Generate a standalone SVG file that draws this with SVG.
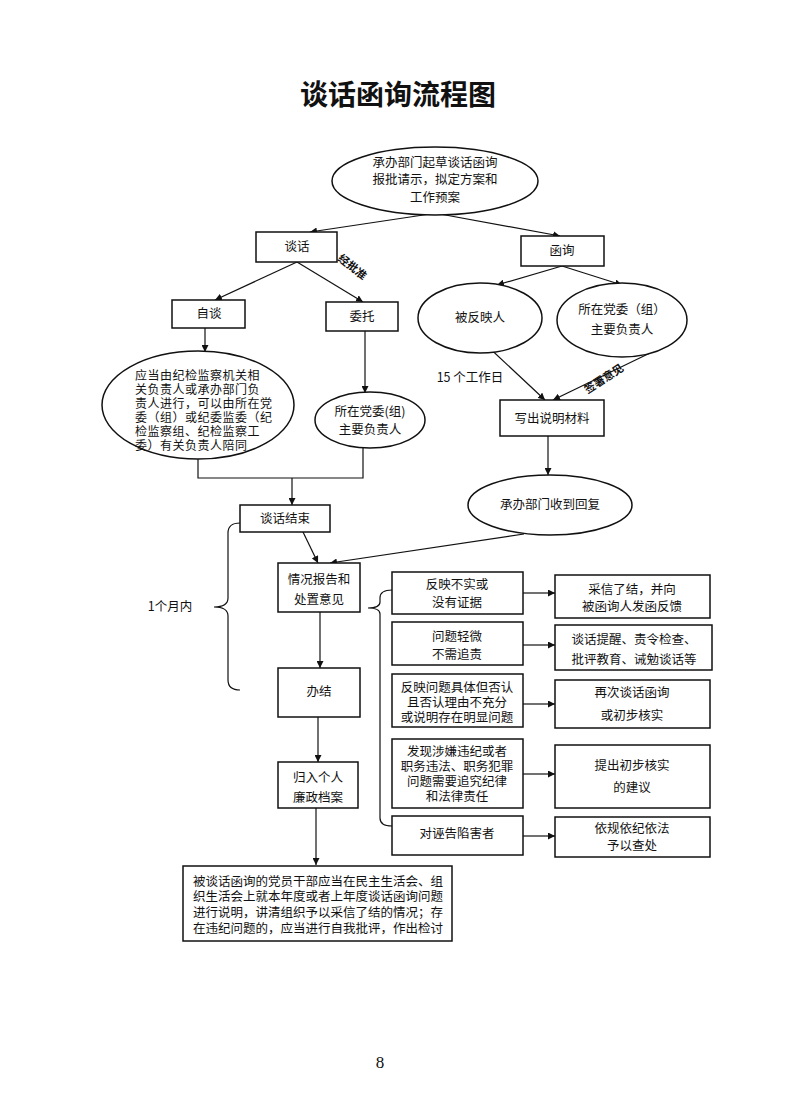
<svg xmlns="http://www.w3.org/2000/svg" width="800" height="1107" viewBox="0 0 800 1107">
<defs>
<marker id="ah" viewBox="0 0 10 10" refX="10" refY="5" markerWidth="7" markerHeight="7" orient="auto" markerUnits="userSpaceOnUse">
<path d="M0,0 L10,5 L0,10 z" fill="#111"/>
</marker>
<style>
.n{fill:#fff;stroke:#111;stroke-width:1.5}
.t{font-family:"Noto Sans CJK SC","Noto Sans",sans-serif;font-size:12.5px;fill:#111;text-anchor:middle}
.l{text-anchor:start}
.s{font-size:12px;letter-spacing:0.5px}
.c{fill:none;stroke:#111;stroke-width:1.2}
.a{fill:none;stroke:#111;stroke-width:1.2;marker-end:url(#ah)}
.b{font-weight:bold;font-size:11px}
</style>
</defs>
<rect width="800" height="1107" fill="#fff"/>
<text x="398" y="105" class="t" style="font-size:28px;font-weight:bold">谈话函询流程图</text>

<g id="connectors">
<path class="a" d="M430,214 L310,232"/>
<path class="a" d="M440,214 L560,236"/>
<path class="a" d="M297,262 L215,300"/>
<path class="a" d="M297,262 L363,302"/>
<path class="a" d="M562,266 L497,285"/>
<path class="a" d="M562,266 L622,285"/>
<path class="a" d="M205,328 L205,352"/>
<path class="a" d="M365,331 L365,393"/>
<path class="c" d="M198,458 L198,478 L363,478 L363,448"/>
<path class="a" d="M292,478 L292,505"/>
<path class="a" d="M484,343 L545,400"/>
<path class="a" d="M650,353 L553,400"/>
<path class="a" d="M548,436 L548,475"/>
<path class="a" d="M524,534 L330,563"/>
<path class="a" d="M303,532 L318,563"/>
<path class="a" d="M320,612 L320,668"/>
<path class="a" d="M318,717 L318,762"/>
<path class="a" d="M316,808 L316,865"/>
<path class="a" d="M523,593 L555,593"/>
<path class="a" d="M523,645 L555,645"/>
<path class="a" d="M523,704 L555,704"/>
<path class="a" d="M523,774 L555,774"/>
<path class="a" d="M523,836 L555,836"/>
<path class="c" d="M240,523 Q228,523 228,533 L228,598 Q228,607 214,607 Q228,607 228,616 L228,680 Q228,690 240,690"/>
<path class="c" d="M392,590 Q380,590 380,598 L380,602 Q380,608 368,608 Q380,608 380,614 L380,818 Q380,826 392,826"/>
<text class="t b" transform="translate(350,270) rotate(38)">经批准</text>
<text class="t b" transform="translate(606,382) rotate(-33)">签署意见</text>
<text class="t" x="470" y="382">15 个工作日</text>
<text class="t" x="170" y="611">1个月内</text>
</g>

<g id="start">
<ellipse class="n" cx="435" cy="181" rx="103" ry="34"/>
<text class="t" x="435" y="167">承办部门起草谈话函询</text>
<text class="t" x="435" y="184">报批请示，拟定方案和</text>
<text class="t" x="435" y="202">工作预案</text>
</g>
<g id="tanhua"><rect class="n" x="256" y="232" width="81" height="30"/><text class="t" x="297" y="251">谈话</text></g>
<g id="hanxun"><rect class="n" x="521" y="236" width="83" height="30"/><text class="t" x="562" y="255">函询</text></g>
<g id="zitan"><rect class="n" x="172" y="300" width="73" height="28"/><text class="t" x="209" y="318">自谈</text></g>
<g id="weituo"><rect class="n" x="326" y="302" width="72" height="29"/><text class="t" x="362" y="321">委托</text></g>
<g id="beifanying"><ellipse class="n" cx="480" cy="318" rx="62" ry="35"/><text class="t" x="480" y="322">被反映人</text></g>
<g id="dangwei1"><ellipse class="n" cx="622" cy="320" rx="65" ry="37"/><text class="t" x="622" y="314">所在党委（组）</text><text class="t" x="622" y="334">主要负责人</text></g>
<g id="yingdang">
<ellipse class="n" cx="198" cy="405" rx="96" ry="54"/>
<text class="t l s" x="135" y="380">应当由纪检监察机关相</text>
<text class="t l s" x="135" y="394">关负责人或承办部门负</text>
<text class="t l s" x="135" y="408">责人进行，可以由所在党</text>
<text class="t l s" x="135" y="422">委（组）或纪委监委（纪</text>
<text class="t l s" x="135" y="436">检监察组、纪检监察工</text>
<text class="t l s" x="135" y="450">委）有关负责人陪同</text>
</g>
<g id="dangwei2"><ellipse class="n" cx="370" cy="420" rx="55" ry="28"/><text class="t" x="370" y="416">所在党委(组)</text><text class="t" x="370" y="434">主要负责人</text></g>
<g id="xiechu"><rect class="n" x="500" y="400" width="104" height="36"/><text class="t" x="552" y="423">写出说明材料</text></g>
<g id="shoudao"><ellipse class="n" cx="550" cy="505" rx="82" ry="30"/><text class="t" x="550" y="509">承办部门收到回复</text></g>
<g id="jieshu"><rect class="n" x="240" y="505" width="90" height="27"/><text class="t" x="285" y="523">谈话结束</text></g>
<g id="qingkuang"><rect class="n" x="278" y="563" width="82" height="49"/><text class="t" x="319" y="584">情况报告和</text><text class="t" x="319" y="604">处置意见</text></g>
<g id="banjie"><rect class="n" x="278" y="668" width="82" height="49"/><text class="t" x="319" y="696">办结</text></g>
<g id="guiru"><rect class="n" x="278" y="762" width="80" height="46"/><text class="t" x="318" y="782">归入个人</text><text class="t" x="318" y="802">廉政档案</text></g>
<g id="bottom">
<rect class="n" x="183" y="866" width="269" height="75"/>
<text class="t l" x="193" y="886">被谈话函询的党员干部应当在民主生活会、组</text>
<text class="t l" x="193" y="901">织生活会上就本年度或者上年度谈话函询问题</text>
<text class="t l" x="193" y="917">进行说明，讲清组织予以采信了结的情况；存</text>
<text class="t l" x="193" y="933">在违纪问题的，应当进行自我批评，作出检讨</text>
</g>
<g id="m1"><rect class="n" x="392" y="572" width="131" height="42"/><text class="t" x="457" y="589">反映不实或</text><text class="t" x="457" y="607">没有证据</text></g>
<g id="m2"><rect class="n" x="392" y="622" width="131" height="43"/><text class="t" x="457" y="641">问题轻微</text><text class="t" x="457" y="659">不需追责</text></g>
<g id="m3"><rect class="n" x="392" y="674" width="131" height="53"/><text class="t" x="457" y="692">反映问题具体但否认</text><text class="t" x="457" y="707">且否认理由不充分</text><text class="t" x="457" y="722">或说明存在明显问题</text></g>
<g id="m4"><rect class="n" x="392" y="739" width="131" height="69"/><text class="t" x="457" y="756">发现涉嫌违纪或者</text><text class="t" x="457" y="771">职务违法、职务犯罪</text><text class="t" x="457" y="786">问题需要追究纪律</text><text class="t" x="457" y="801">和法律责任</text></g>
<g id="m5"><rect class="n" x="392" y="816" width="131" height="39"/><text class="t" x="457" y="838">对诬告陷害者</text></g>
<g id="r1"><rect class="n" x="555" y="575" width="155" height="43"/><text class="t" x="632" y="594">采信了结，并向</text><text class="t" x="632" y="611">被函询人发函反馈</text></g>
<g id="r2"><rect class="n" x="555" y="625" width="157" height="45"/><text class="t" x="634" y="644">谈话提醒、责令检查、</text><text class="t" x="634" y="664">批评教育、诫勉谈话等</text></g>
<g id="r3"><rect class="n" x="555" y="680" width="155" height="48"/><text class="t" x="632" y="697">再次谈话函询</text><text class="t" x="632" y="720">或初步核实</text></g>
<g id="r4"><rect class="n" x="555" y="745" width="155" height="63"/><text class="t" x="632" y="770">提出初步核实</text><text class="t" x="632" y="792">的建议</text></g>
<g id="r5"><rect class="n" x="555" y="817" width="155" height="40"/><text class="t" x="632" y="833">依规依纪依法</text><text class="t" x="632" y="850">予以查处</text></g>
<text x="380" y="1068" style="font-family:'Liberation Serif',serif;font-size:17px;text-anchor:middle;fill:#111">8</text>
</svg>
